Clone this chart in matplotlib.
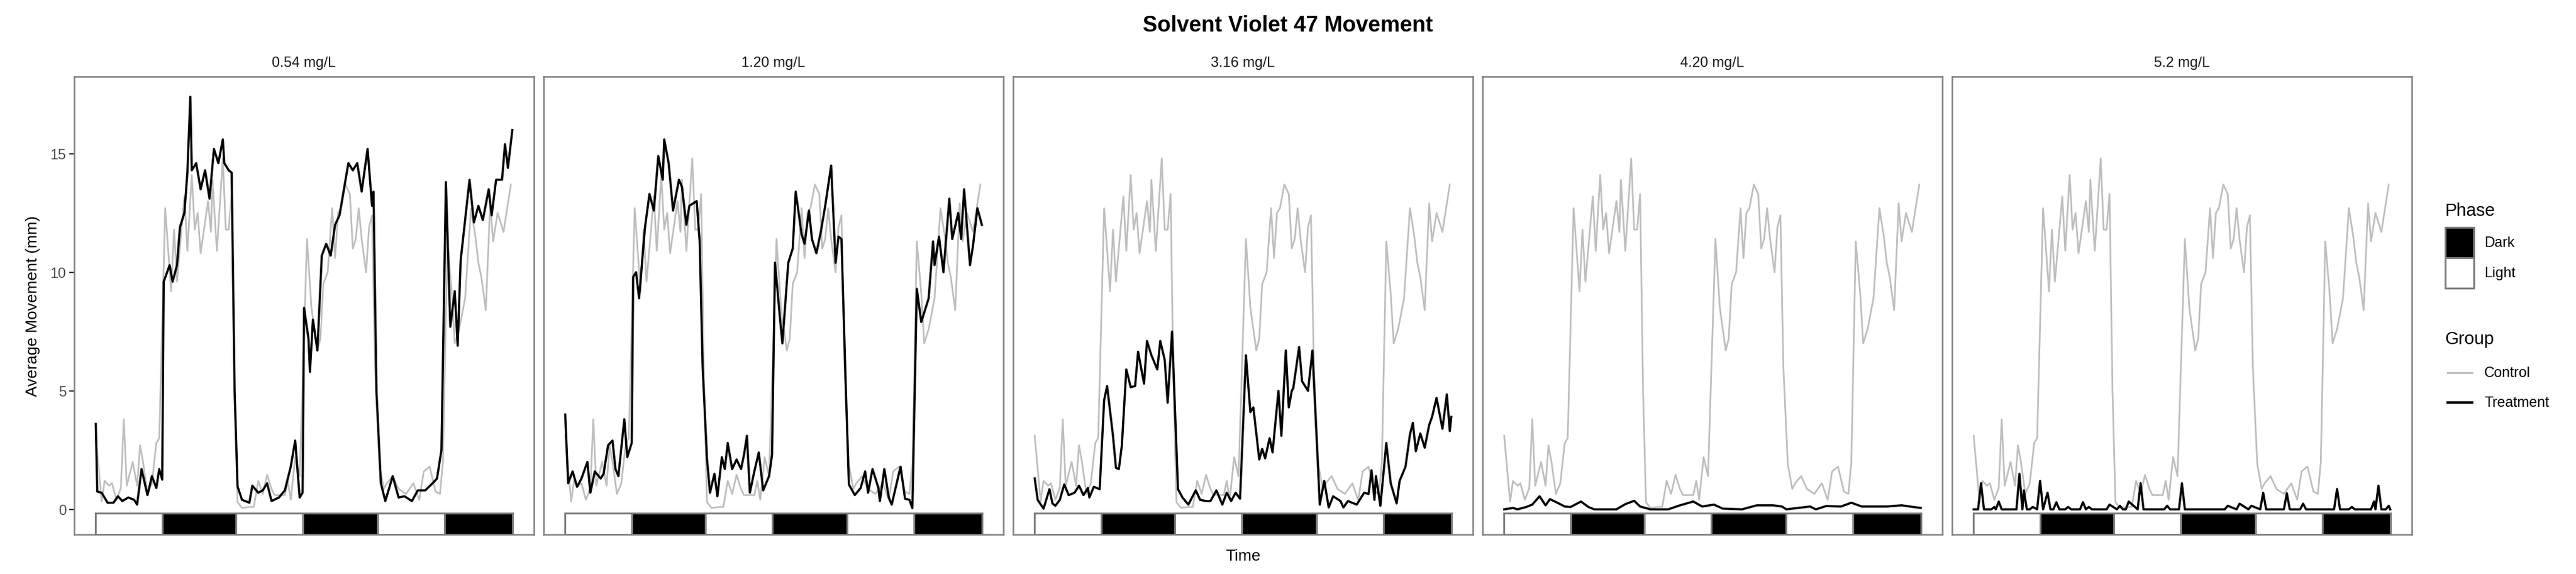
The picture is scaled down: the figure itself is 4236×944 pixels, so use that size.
import matplotlib
matplotlib.use("Agg")
import matplotlib.pyplot as plt
from matplotlib.patches import Rectangle
from matplotlib.lines import Line2D

plt.rcParams["font.family"] = ["Liberation Sans", "DejaVu Sans"]

# phase layout (minutes)
phase_start = [0, 45, 95, 140, 191, 236]
phase_end = [45, 95, 140, 191, 236, 282]
phase_name = ["Light", "Dark", "Light", "Dark", "Light", "Dark"]

concentrations = ["0.54 mg/L", "1.20 mg/L", "3.16 mg/L", "4.20 mg/L", "5.2 mg/L"]

# control group (same in every panel)
ctrl_t = [0, 4, 6, 9, 11, 14, 17, 19, 21, 25, 28, 30, 32, 35, 38, 41, 43, 47, 51, 53, 55, 60, 62, 65, 67,
          69, 71, 76, 78, 79, 82, 86, 88, 90, 92, 94, 96, 99, 104, 107, 110, 113, 116, 119, 121, 128, 130,
          132, 135, 138, 143, 146, 150, 152, 154, 157, 160, 162, 164, 166, 169, 172, 174, 176, 178, 180,
          183, 185, 187, 189, 192, 195, 197, 201, 205, 210, 215, 219, 222, 226, 230, 233, 235, 238, 241,
          243, 246, 250, 254, 257, 259, 261, 264, 267, 269, 272, 276, 281]
ctrl_v = [3.1, 0.33, 1.2, 1.0, 1.1, 0.4, 0.9, 3.8, 1.0, 2.0, 1.0, 2.7, 2.0, 0.65, 1.1, 2.8, 3.0, 12.7, 9.2,
          11.8, 9.6, 13.2, 10.9, 14.1, 11.8, 12.5, 10.8, 13.0, 11.7, 13.9, 10.9, 14.8, 11.8, 11.8, 13.3,
          5.0, 0.3, 0.06, 0.1, 0.1, 1.2, 0.65, 1.45, 0.86, 0.6, 0.6, 1.2, 0.4, 2.2, 1.4, 11.4, 8.5, 6.7,
          7.2, 9.5, 10.0, 12.7, 10.6, 12.5, 12.7, 13.7, 13.3, 11.0, 11.4, 12.7, 11.4, 10.0, 11.9, 12.4,
          6.0, 1.9, 0.86, 1.1, 1.4, 0.86, 0.65, 1.1, 0.4, 1.6, 1.8, 0.75, 0.65, 2.0, 11.3, 9.1, 7.0, 7.6,
          8.9, 12.7, 11.5, 10.4, 9.8, 8.4, 12.9, 11.3, 12.5, 11.7, 13.7]

# treatment groups
t1_t = [0, 1, 4, 8, 12, 15, 18, 22, 26, 28, 31, 35, 38, 41, 43, 45, 46, 50, 52, 55, 57, 60, 62, 64, 65, 68,
        71, 74, 77, 80, 83, 86, 87, 90, 92, 94, 96, 99, 104, 106, 110, 113, 116, 119, 124, 128, 132, 135,
        138, 140, 141, 144, 145, 147, 150, 153, 156, 159, 162, 165, 168, 171, 174, 177, 180, 184, 187, 188,
        190, 193, 196, 201, 205, 209, 214, 218, 223, 228, 231, 234, 237, 240, 243, 245, 247, 250, 253,
        256, 259, 262, 266, 268, 271, 275, 277, 279, 282]
t1_v = [3.6, 0.75, 0.7, 0.28, 0.28, 0.55, 0.35, 0.5, 0.4, 0.2, 1.7, 0.6, 1.4, 0.9, 1.7, 1.25, 9.6, 10.3,
        9.6, 10.3, 11.9, 12.5, 14.2, 17.4, 14.3, 14.6, 13.5, 14.3, 13.1, 15.2, 14.6, 15.6, 14.6, 14.3, 14.2,
        5.0, 0.96, 0.4, 0.28, 1.0, 0.7, 0.8, 1.1, 0.35, 0.5, 0.8, 1.8, 2.9, 0.5, 0.7, 8.5, 7.2, 5.8, 8.0,
        6.7, 10.7, 11.2, 10.7, 12.0, 12.4, 13.5, 14.6, 14.3, 14.6, 13.4, 15.2, 12.8, 13.4, 5.0, 1.1, 0.35,
        1.4, 0.5, 0.55, 0.35, 0.8, 0.8, 1.1, 1.3, 2.5, 13.8, 7.7, 9.2, 6.9, 10.5, 12.2, 13.9, 12.1, 12.8,
        12.2, 13.5, 12.4, 13.9, 13.9, 15.4, 14.4, 16.0]

t2_t = [0, 2, 5, 8, 11, 15, 17, 20, 24, 26, 29, 32, 34, 36, 40, 42, 45, 46, 48, 50, 54, 57, 60, 63, 66, 67,
        70, 73, 77, 79, 82, 84, 89, 91, 93, 96, 98, 101, 103, 106, 108, 110, 113, 116, 119, 121, 123, 125,
        128, 131, 134, 138, 140, 142, 145, 147, 151, 154, 156, 160, 162, 165, 167, 170, 173, 176, 180, 183,
        185, 187, 190, 192, 196, 200, 203, 205, 208, 212, 213, 216, 219, 221, 227, 230, 233, 235, 238, 241,
        246, 249, 250, 253, 256, 260, 262, 266, 268, 270, 274, 276, 279, 282]
t2_v = [4.0, 1.1, 1.6, 0.95, 1.3, 2.0, 0.7, 1.6, 1.3, 1.5, 2.7, 2.9, 1.7, 1.4, 3.8, 2.2, 2.8, 9.8, 10.0,
        8.9, 11.9, 13.3, 12.6, 14.9, 13.9, 15.6, 14.6, 12.6, 13.9, 13.6, 12.0, 12.8, 13.0, 11.3, 6.0, 2.1,
        0.7, 1.5, 0.55, 2.2, 1.7, 2.8, 1.7, 2.1, 1.7, 2.3, 3.1, 0.7, 1.6, 2.4, 0.8, 1.4, 2.3, 10.4, 8.3,
        7.0, 10.4, 11.0, 13.4, 11.6, 11.2, 12.6, 11.4, 10.8, 11.7, 12.8, 14.5, 10.4, 11.5, 11.4, 5.0, 1.05,
        0.6, 0.9, 1.6, 0.7, 1.7, 0.9, 0.35, 1.7, 0.5, 0.2, 1.8, 0.45, 0.4, 0.05, 9.3, 7.9, 8.9, 11.3, 10.3,
        11.5, 10.0, 13.1, 11.4, 12.5, 11.4, 13.5, 10.3, 11.1, 12.7, 12.0]

t3_t = [0, 2, 6, 10, 12, 14, 17, 20, 23, 27, 30, 33, 36, 37, 40, 44, 47, 49, 53, 55, 57, 59, 62, 65, 68, 70,
        74, 76, 79, 83, 85, 88, 90, 93, 97, 100, 104, 109, 112, 116, 119, 123, 127, 130, 133, 136, 139, 143,
        146, 148, 152, 154, 156, 159, 161, 165, 167, 170, 172, 174, 175, 179, 181, 185, 188, 193, 196, 199,
        202, 207, 209, 212, 218, 223, 226, 228, 230, 231, 234, 238, 241, 245, 247, 251, 254, 256, 258, 261,
        264, 267, 269, 272, 276, 279, 281, 282]
t3_v = [1.3, 0.4, 0.03, 0.85, 0.25, 0.15, 0.4, 1.05, 0.6, 0.7, 1.0, 0.6, 0.9, 0.5, 0.95, 0.85, 4.6, 5.2,
        3.1, 1.75, 1.7, 2.7, 5.9, 5.15, 5.2, 6.65, 5.3, 7.1, 6.5, 5.9, 7.1, 6.3, 4.5, 7.5, 0.85, 0.5, 0.2,
        0.8, 0.4, 0.35, 0.35, 0.8, 0.2, 0.7, 0.35, 0.7, 0.45, 6.5, 4.1, 4.3, 2.1, 2.55, 2.15, 3.0, 2.4, 5.0,
        3.1, 6.7, 4.3, 5.0, 5.1, 6.85, 5.4, 5.0, 6.7, 0.2, 1.2, 0.08, 0.55, 0.35, 0.08, 0.35, 0.2, 0.7,
        0.65, 1.65, 0.4, 1.4, 0.15, 2.8, 1.1, 0.25, 1.2, 1.8, 3.15, 3.65, 2.45, 3.2, 2.6, 3.55, 3.9, 4.7,
        3.4, 4.85, 3.3, 3.9]

t4_t = [0, 6, 9, 15, 19, 24, 28, 31, 36, 41, 45, 52, 57, 61, 76, 82, 88, 92, 99, 111, 119, 128, 134, 142,
        148, 161, 171, 182, 188, 191, 207, 211, 218, 228, 235, 242, 254, 259, 269, 277, 282]
t4_v = [0.0, 0.06, 0.0, 0.1, 0.2, 0.55, 0.17, 0.43, 0.28, 0.12, 0.1, 0.33, 0.1, 0.0, 0.0, 0.22, 0.36, 0.12,
        0.0, 0.0, 0.17, 0.33, 0.12, 0.2, 0.03, 0.0, 0.17, 0.17, 0.12, 0.0, 0.12, 0.0, 0.14, 0.12, 0.28,
        0.12, 0.12, 0.12, 0.17, 0.1, 0.06]

t5_t = [0, 3, 5, 7, 12, 14, 15, 17, 19, 29, 31, 33, 34, 36, 38, 40, 43, 45, 47, 50, 52, 54, 56, 58, 62, 64,
        66, 72, 74, 76, 78, 80, 90, 92, 97, 99, 101, 103, 105, 111, 113, 115, 129, 131, 133, 139, 141, 143,
        170, 172, 178, 180, 186, 188, 194, 196, 198, 210, 212, 214, 221, 223, 225, 244, 246, 248, 254, 256,
        258, 269, 271, 272, 274, 276, 279, 281, 282]
t5_v = [0.0, 0.0, 1.1, 0.0, 0.0, 0.1, 0.0, 0.33, 0.0, 0.0, 1.5, 0.0, 0.8, 0.0, 0.0, 0.1, 0.0, 1.2, 0.0, 0.7,
        0.0, 0.0, 0.3, 0.0, 0.0, 0.1, 0.0, 0.0, 0.3, 0.0, 0.1, 0.0, 0.0, 0.2, 0.0, 0.15, 0.0, 0.0, 0.33,
        0.0, 1.1, 0.0, 0.0, 0.15, 0.0, 0.0, 1.1, 0.0, 0.0, 0.15, 0.0, 0.24, 0.0, 0.15, 0.0, 0.7, 0.0, 0.0,
        0.68, 0.0, 0.0, 0.24, 0.0, 0.0, 0.86, 0.0, 0.0, 0.1, 0.0, 0.0, 0.33, 0.0, 1.0, 0.0, 0.0, 0.15, 0.0]

treat_t = [t1_t, t2_t, t3_t, t4_t, t5_t]
treat_v = [t1_v, t2_v, t3_v, t4_v, t5_v]

W, H = 4236, 945
fig = plt.figure(figsize=(W / 100, H / 100), dpi=100)

frame_col = "#7F7F7F"
ctrl_col = "#BEBEBE"
panel_left = [122, 894, 1666, 2438, 3210]
panel_w = 756
panel_top, panel_bot = 127, 880
ymin, ymax = -1.06, 18.25

for i, conc in enumerate(concentrations):
    ax = fig.add_axes([panel_left[i] / W, (H - panel_bot) / H, panel_w / W, (panel_bot - panel_top) / H])
    # phase bar
    for s, e, ph in zip(phase_start, phase_end, phase_name):
        ax.bar(s, 0.89, width=e - s, bottom=ymin, align="edge",
               color="black" if ph == "Dark" else "white",
               edgecolor=frame_col, linewidth=2.2, zorder=2)
    ax.plot(ctrl_t, ctrl_v, color=ctrl_col, lw=2.0, zorder=3)
    ax.plot(treat_t[i], treat_v[i], color="black", lw=2.6, zorder=4)
    ax.set_xlim(-14.6, 296.6)
    ax.set_ylim(ymin, ymax)
    ax.set_xticks([])
    for sp in ax.spines.values():
        sp.set_color(frame_col)
        sp.set_linewidth(1.8)
    ax.set_title(conc, fontsize=17, color="#1A1A1A", pad=12)
    if i == 0:
        ax.set_yticks([0, 5, 10, 15])
        ax.tick_params(axis="y", labelsize=17, labelcolor="#4D4D4D", color="#333333", length=6, width=1.5)
        ax.set_ylabel("Average Movement (mm)", fontsize=19, color="black", labelpad=12)
    else:
        ax.set_yticks([])

fig.text(0.5, 1 - 43 / H, "Solvent Violet 47 Movement", ha="center", va="center",
         fontsize=26, fontweight="bold")
fig.text((panel_left[0] + panel_left[-1] + panel_w) / 2 / W, 1 - 915 / H, "Time",
         ha="center", va="center", fontsize=19)

# legend
lg = fig.add_axes([0, 0, 1, 1])
lg.set_xlim(0, W)
lg.set_ylim(H, 0)
lg.axis("off")
lg.text(4021, 347, "Phase", fontsize=21, va="center", ha="left")
for k, (lab, fc) in enumerate([("Dark", "black"), ("Light", "white")]):
    y0 = 375 + 50 * k
    lg.add_patch(Rectangle((4021, y0), 47, 50, facecolor=fc, edgecolor=frame_col, lw=2.2))
    lg.text(4085, y0 + 25, lab, fontsize=17, va="center", ha="left")
lg.text(4021, 558, "Group", fontsize=21, va="center", ha="left")
for k, (lab, col, lw) in enumerate([("Control", ctrl_col, 2.4), ("Treatment", "black", 3.0)]):
    yy = 614 + 49 * k
    lg.add_line(Line2D([4025, 4065], [yy, yy], color=col, lw=lw))
    lg.text(4085, yy, lab, fontsize=17, va="center", ha="left")

fig.savefig("out.png", dpi=100)
